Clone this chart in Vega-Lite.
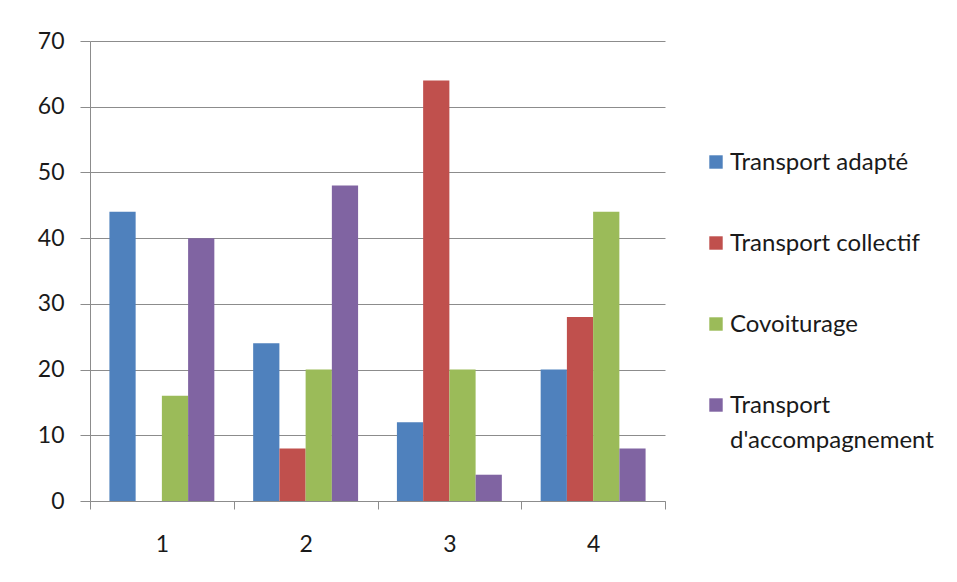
{
  "$schema": "https://vega.github.io/schema/vega-lite/v6.json",
  "autosize": {"type": "none"},
  "width": 575,
  "height": 460,
  "padding": {"left": 90, "top": 41, "right": 292, "bottom": 81},
  "background": "white",
  "data": {
    "values": [
      {"groupe": "1", "mode": "Transport adapté", "valeur": 44},
      {"groupe": "1", "mode": "Transport collectif", "valeur": 0},
      {"groupe": "1", "mode": "Covoiturage", "valeur": 16},
      {"groupe": "1", "mode": "Transport d'accompagnement", "valeur": 40},
      {"groupe": "2", "mode": "Transport adapté", "valeur": 24},
      {"groupe": "2", "mode": "Transport collectif", "valeur": 8},
      {"groupe": "2", "mode": "Covoiturage", "valeur": 20},
      {"groupe": "2", "mode": "Transport d'accompagnement", "valeur": 48},
      {"groupe": "3", "mode": "Transport adapté", "valeur": 12},
      {"groupe": "3", "mode": "Transport collectif", "valeur": 64},
      {"groupe": "3", "mode": "Covoiturage", "valeur": 20},
      {"groupe": "3", "mode": "Transport d'accompagnement", "valeur": 4},
      {"groupe": "4", "mode": "Transport adapté", "valeur": 20},
      {"groupe": "4", "mode": "Transport collectif", "valeur": 28},
      {"groupe": "4", "mode": "Covoiturage", "valeur": 44},
      {"groupe": "4", "mode": "Transport d'accompagnement", "valeur": 8}
    ]
  },
  "mark": {"type": "bar"},
  "encoding": {
    "x": {
      "field": "groupe",
      "type": "nominal",
      "title": null,
      "scale": {"paddingInner": 0, "paddingOuter": 0},
      "axis": {
        "labelAngle": 0,
        "tickBand": "extent",
        "tickSize": 8,
        "tickColor": "#8c8c8c",
        "domainColor": "#8c8c8c",
        "labelFont": "Lato",
        "labelFontSize": 23,
        "labelColor": "#1a1a1a",
        "labelPadding": 24,
        "grid": false
      }
    },
    "xOffset": {
      "field": "mode",
      "type": "nominal",
      "sort": ["Transport adapté", "Transport collectif", "Covoiturage", "Transport d'accompagnement"],
      "scale": {"paddingInner": 0, "paddingOuter": 0.74}
    },
    "y": {
      "field": "valeur",
      "type": "quantitative",
      "title": null,
      "scale": {"domain": [0, 70], "nice": false},
      "axis": {
        "values": [0, 10, 20, 30, 40, 50, 60, 70],
        "tickSize": 10,
        "tickColor": "#8c8c8c",
        "domainColor": "#8c8c8c",
        "gridColor": "#8c8c8c",
        "labelFont": "Lato",
        "labelFontSize": 23,
        "labelColor": "#1a1a1a",
        "labelPadding": 16
      }
    },
    "color": {
      "field": "mode",
      "type": "nominal",
      "title": null,
      "sort": ["Transport adapté", "Transport collectif", "Covoiturage", "Transport d'accompagnement"],
      "scale": {
        "domain": ["Transport adapté", "Transport collectif", "Covoiturage", "Transport d'accompagnement"],
        "range": ["#4F81BD", "#C0504D", "#9BBB59", "#8064A2"]
      },
      "legend": {
        "orient": "none",
        "legendX": 614,
        "legendY": 109,
        "symbolType": "square",
        "symbolSize": 180,
        "symbolStrokeWidth": 0,
        "labelFont": "Lato",
        "labelFontSize": 24,
        "labelColor": "#1a1a1a",
        "labelOffset": 2,
        "labelLimit": 320,
        "labelBaseline": "alphabetic",
        "rowPadding": 56,
        "labelExpr": "datum.label == \"Transport d'accompagnement\" ? ['Transport', \"d'accompagnement\"] : datum.label",
        "encode": {
          "labels": {
            "update": {
              "dy": {"value": 8},
              "lineHeight": {"value": 35}
            }
          }
        }
      }
    }
  },
  "config": {
    "view": {"stroke": null},
    "axis": {"gridWidth": 1, "domainWidth": 1, "tickWidth": 1}
  }
}
